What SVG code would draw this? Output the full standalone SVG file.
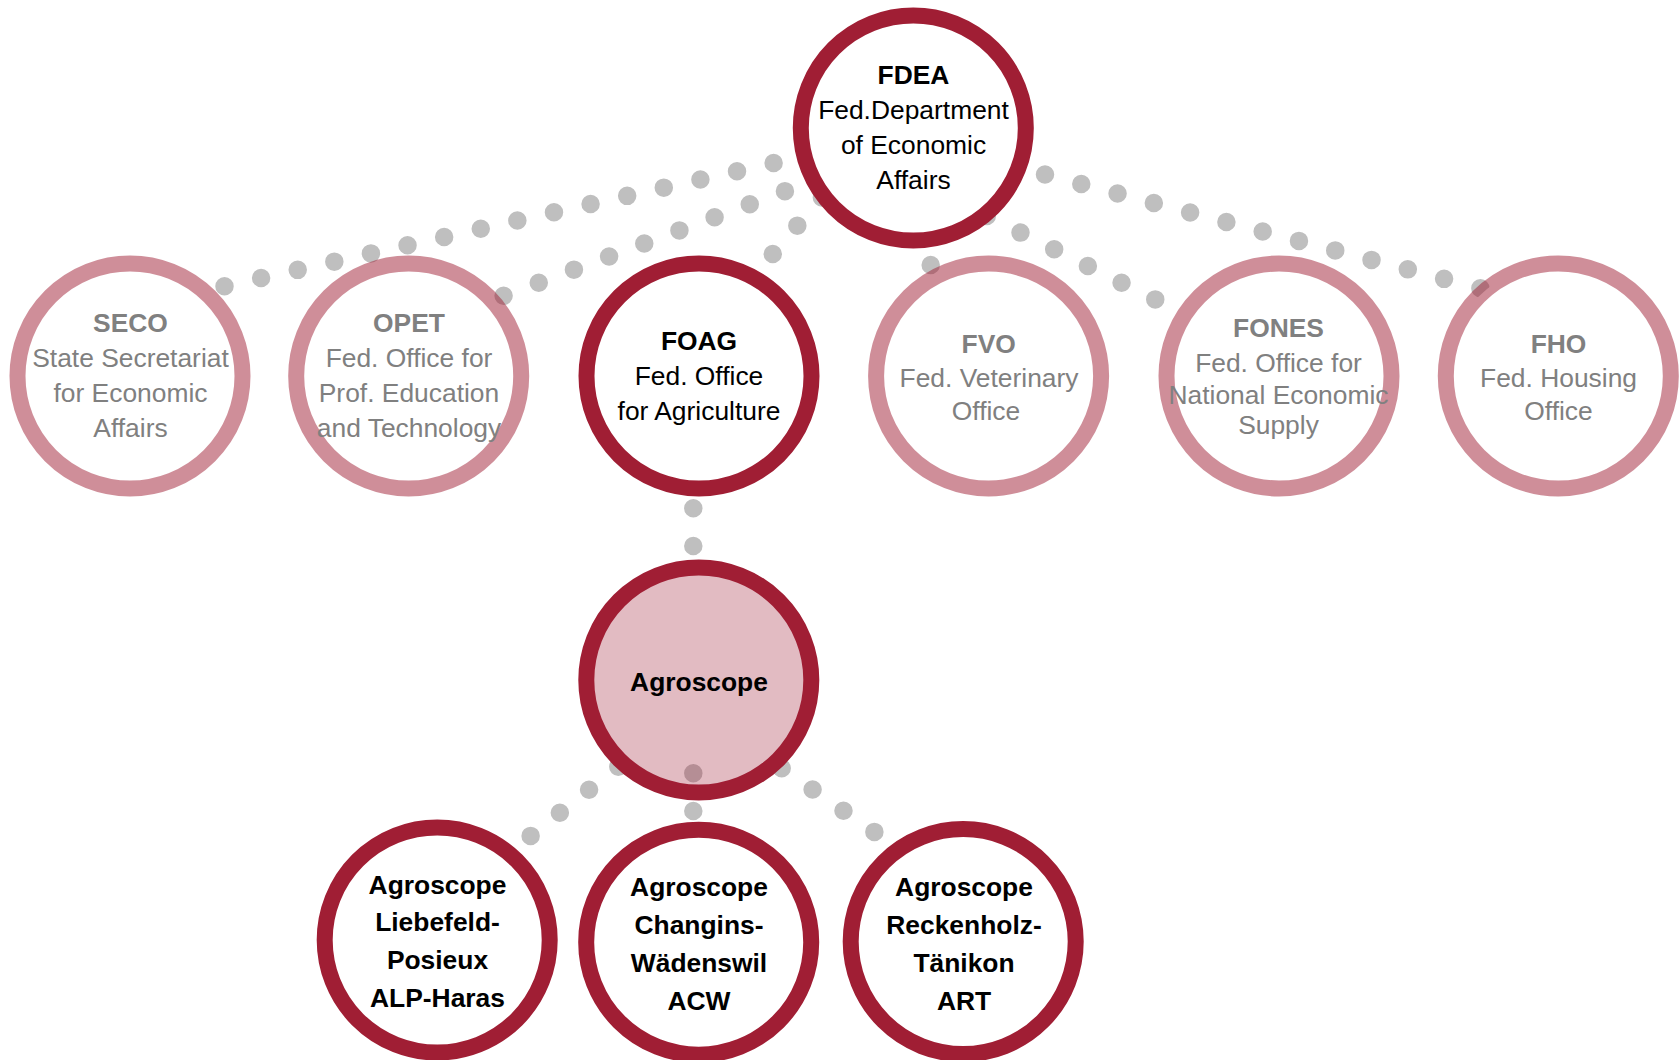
<svg xmlns="http://www.w3.org/2000/svg" width="1679" height="1060" viewBox="0 0 1679 1060">
  <style>
    .dots { fill: none; stroke: #BFBFBF; stroke-width: 18.5; stroke-linecap: round; }
    .ring { fill: #FFFFFF; stroke: #A01E34; stroke-width: 16; }
    .faded { fill: #FFFFFF; stroke: #A01E34; stroke-opacity: 0.5; stroke-width: 16; }
    .core { fill: #A01E34; fill-opacity: 0.3; stroke: #A01E34; stroke-width: 16; }
    text { font-family: "Liberation Sans", Arial, sans-serif; font-size: 26.4px; text-anchor: middle; }
    .dark { fill: #000000; }
    .grey { fill: #808080; }
    .b { font-weight: bold; }
  </style>
  <rect width="1679" height="1060" fill="#FFFFFF"/>
  <g id="connectors">
    <line class="dots" x1="224.5" y1="286.3" x2="774.4" y2="162.8" stroke-dasharray="0 37.52"/>
    <line class="dots" x1="503.6" y1="295.8" x2="785.3" y2="191" stroke-dasharray="0 37.52"/>
    <line class="dots" x1="821.9" y1="197.4" x2="772.7" y2="254" stroke-dasharray="0 37.45"/>
    <line class="dots" x1="925.8" y1="227.6" x2="930.7" y2="265" stroke-dasharray="0 37.67"/>
    <line class="dots" x1="986.8" y1="215.9" x2="1155.5" y2="299.5" stroke-dasharray="0 37.6"/>
    <line class="dots" x1="1045" y1="174.5" x2="1481" y2="288.5" stroke-dasharray="0 37.5"/>
    <line class="dots" x1="693.3" y1="508.3" x2="693.3" y2="546" stroke-dasharray="0 37.65"/>
    <line class="dots" x1="618.3" y1="766.7" x2="530.5" y2="836" stroke-dasharray="0 37.23"/>
    <line class="dots" x1="693.3" y1="773.3" x2="693.3" y2="811" stroke-dasharray="0 37.65"/>
    <line class="dots" x1="781.7" y1="768.3" x2="874.5" y2="832" stroke-dasharray="0 37.47"/>
  </g>
  <g id="fdea">
    <circle class="ring" cx="913.3" cy="128" r="112.5"/>
    <text class="dark b" x="913.5" y="84">FDEA</text>
    <text class="dark" x="913.5" y="119">Fed.Department</text>
    <text class="dark" x="913.5" y="154">of Economic</text>
    <text class="dark" x="913.5" y="188.8">Affairs</text>
  </g>
  <g id="seco">
    <circle class="faded" cx="130" cy="376" r="112.5"/>
    <text class="grey b" x="130.5" y="331.7">SECO</text>
    <text class="grey" x="130.5" y="366.7">State Secretariat</text>
    <text class="grey" x="130.5" y="401.5">for Economic</text>
    <text class="grey" x="130.5" y="436.7">Affairs</text>
  </g>
  <g id="opet">
    <circle class="faded" cx="408.7" cy="376" r="112.5"/>
    <text class="grey b" x="409" y="331.7">OPET</text>
    <text class="grey" x="409" y="366.7">Fed. Office for</text>
    <text class="grey" x="409" y="401.5">Prof. Education</text>
    <text class="grey" x="409" y="436.7">and Technology</text>
  </g>
  <g id="foag">
    <circle class="ring" cx="699" cy="376" r="112.5"/>
    <text class="dark b" x="699" y="349.5">FOAG</text>
    <text class="dark" x="699" y="384.5">Fed. Office</text>
    <text class="dark" x="699" y="419.5">for Agriculture</text>
  </g>
  <g id="fvo">
    <circle class="faded" cx="988.6" cy="376" r="112.5"/>
    <text class="grey b" x="988.7" y="353">FVO</text>
    <text class="grey" x="989" y="387">Fed. Veterinary</text>
    <text class="grey" x="986" y="419.5">Office</text>
  </g>
  <g id="fones">
    <circle class="faded" cx="1279" cy="376" r="112.5"/>
    <text class="grey b" x="1278.5" y="337">FONES</text>
    <text class="grey" x="1278.5" y="371.5">Fed. Office for</text>
    <text class="grey" x="1278.5" y="403.5">National Economic</text>
    <text class="grey" x="1278.5" y="434">Supply</text>
  </g>
  <g id="fho">
    <circle class="faded" cx="1558.3" cy="376" r="112.5"/>
    <text class="grey b" x="1558.5" y="353">FHO</text>
    <text class="grey" x="1558.5" y="387">Fed. Housing</text>
    <text class="grey" x="1558.5" y="419.5">Office</text>
  </g>
  <g id="agroscope">
    <circle class="core" cx="698.8" cy="680" r="112.5"/>
    <text class="dark b" x="699" y="690.7">Agroscope</text>
  </g>
  <g id="alp">
    <circle class="ring" cx="437.2" cy="940" r="112.5"/>
    <text class="dark b" x="437.5" y="893.6">Agroscope</text>
    <text class="dark b" x="437.5" y="931.3">Liebefeld-</text>
    <text class="dark b" x="437.5" y="969.3">Posieux</text>
    <text class="dark b" x="437.5" y="1007.3">ALP-Haras</text>
  </g>
  <g id="acw">
    <circle class="ring" cx="698.7" cy="942.2" r="112.5"/>
    <text class="dark b" x="699" y="896">Agroscope</text>
    <text class="dark b" x="699" y="933.8">Changins-</text>
    <text class="dark b" x="699" y="971.6">Wädenswil</text>
    <text class="dark b" x="699" y="1009.5">ACW</text>
  </g>
  <g id="art">
    <circle class="ring" cx="963.2" cy="941.6" r="112.5"/>
    <text class="dark b" x="964" y="896">Agroscope</text>
    <text class="dark b" x="964" y="933.8">Reckenholz-</text>
    <text class="dark b" x="964" y="971.6">Tänikon</text>
    <text class="dark b" x="964" y="1009.5">ART</text>
  </g>
</svg>
